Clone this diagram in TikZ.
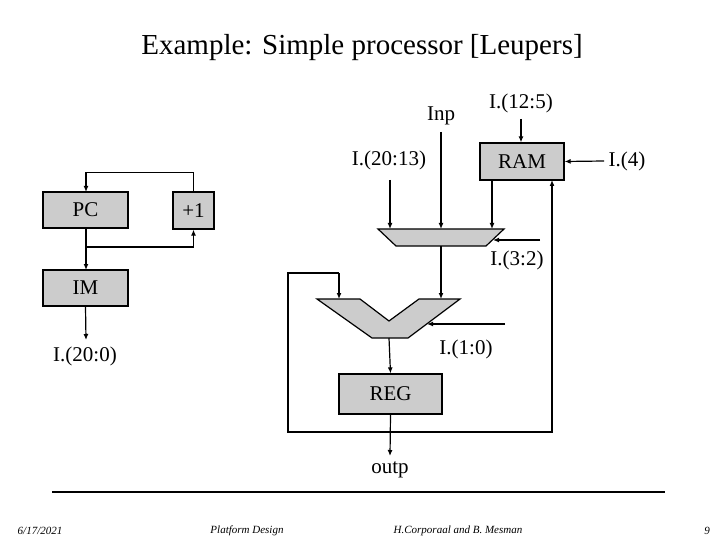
\documentclass[tikz,border=0pt]{standalone}
\usepackage{fontspec}
\setmainfont{Liberation Serif}
\begin{document}
\begin{tikzpicture}[x=1pt,y=-1pt,
  box/.style={draw,line width=1.2pt,fill=black!20,inner sep=0pt,font=\fontsize{21}{21}\selectfont},
  lab/.style={inner sep=0pt,font=\fontsize{21}{21}\selectfont},
  foot/.style={inner sep=0pt,font=\fontsize{11}{11}\selectfont\itshape},
  w/.style={line width=1.2pt},
  a/.style={line width=1.2pt,-{Latex[length=6pt,width=5pt]}}]
\useasboundingbox (0,0) rectangle (720,540);
\usetikzlibrary{arrows.meta}
\node[inner sep=0pt,font=\fontsize{29}{29}\selectfont] (title) at (362,48) {Example: Simple processor [Leupers]};
% left part
\node[box,minimum width=85pt,minimum height=36pt] (pc) at (85.5,210) {PC};
\node[box,minimum width=41pt,minimum height=37pt] (inc) at (193.5,210.5) {+1};
\node[box,minimum width=85pt,minimum height=36pt] (im) at (85.5,288) {IM};
\node[lab] (i200) at (85,356) {I.(20:0)};
\coordinate (pcb) at (86,228);
\draw[a] (inc.north) -- ++(0,-19) -| (86,192);
\draw[a] (pcb) -- (86,270);
\draw[a] (86,247) -| (inc.south);
\draw[a] (im.south) -- (86,340);
% right part
\node[box,minimum width=84pt,minimum height=37pt] (ram) at (522,161.5) {RAM};
\node[lab] (inp) at (441,116) {Inp};
\node[lab] (i125) at (521,103) {I.(12:5)};
\node[lab] (i4) at (627,161) {I.(4)};
\node[lab] (i2013) at (389,160) {I.(20:13)};
\node[lab] (i32) at (517,260) {I.(3:2)};
\node[lab] (i10) at (466,349) {I.(1:0)};
\node[box,minimum width=103pt,minimum height=40pt] (reg) at (390.5,394) {REG};
\node[lab] (outp) at (390,470) {outp};
\draw[w,fill=black!20] (378,229) -- (504,229) -- (486,246) -- (396,246) -- cycle;
\draw[w,fill=black!20] (317,299) -- (360,299) -- (389,321) -- (419,299) -- (460,299) -- (408,338) -- (372,338) -- cycle;
\coordinate (m1) at (441,246);
\coordinate (m2) at (389,338);
\draw[a] (521,119) -- (ram.north -| 521,0);
\draw[a] (604,161) -- (ram.east);
\draw[a] (441,132) -- (441,229);
\draw[a] (390,180) -- (390,229);
\draw[a] (492,180) -- (492,229);
\draw[a] (540,240) -- (493,240);
\draw[a] (m1) -- (441,299);
\draw[a] (505,324) -- (427,324);
\draw[a] (m2) -- (reg.north);
\draw[a] (reg.south) -- (390,456);
\draw[a] (339,273) -- (339,299);
\draw[w] (339,273) -- (288,273) -- (288,432) -- (552,432);
\draw[a] (552,432.6) -- (552,180);
% footer
\draw[line width=1.5pt] (52,492) -- (665,492);
\node[foot] (d) at (40,531) {6/17/2021};
\node[foot] (pd) at (247,531) {Platform Design};
\node[foot] (au) at (458,531) {H.Corporaal and B. Mesman};
\node[foot] (pg) at (707,531) {9};
\end{tikzpicture}
\end{document}
